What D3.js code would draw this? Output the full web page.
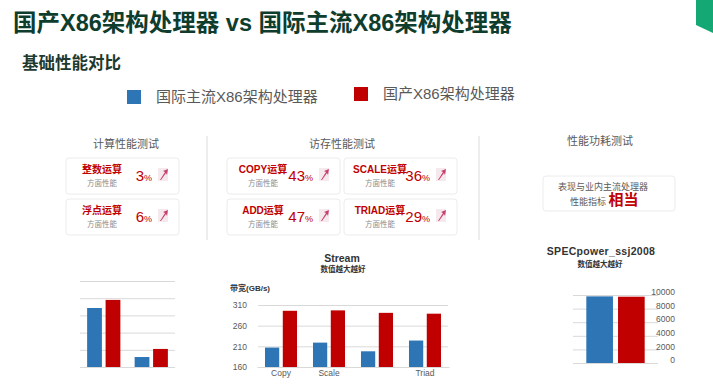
<!DOCTYPE html>
<html>
<head>
<meta charset="utf-8">
<script src="https://cdn.jsdelivr.net/npm/d3@7"></script>
<style>
  body { margin: 0; background: #fff; }
  text { font-family: "Liberation Sans", "Noto Sans CJK SC", sans-serif; }
</style>
</head>
<body>
<svg></svg>
<script>
// series
const seriesNames = ["国际主流X86架构处理器", "国产X86架构处理器"];
const seriesColors = ["#2e75b6", "#c00000"];

// cards
const computeNames = ["整数运算", "浮点运算"];
const computeGains = ["3", "6"];
const memoryNames = ["COPY运算", "SCALE运算", "ADD运算", "TRIAD运算"];
const memoryGains = ["43", "36", "47", "29"];

// left chart (no labels)
const computeCats = ["整数", "浮点"];
const computeIntl = [68.6, 11.6];
const computeHome = [78, 21];
const computeTicks = [0, 20, 40, 60, 80, 100];

// stream
const streamCats = ["Copy", "Scale", "Add", "Triad"];
const streamLabels = ["Copy", "Scale", "", "Triad"];
const streamIntl = [207, 219, 198, 224];
const streamHome = [296, 297, 291, 289];
const streamTicks = [160, 210, 260, 310];

// specpower
const specCats = ["intl", "home"];
const specValues = [9800, 9750];
const specTicks = [0, 2000, 4000, 6000, 8000, 10000];

const width = 713;
const height = 388;
const cjk = "'Noto Sans CJK SC', sans-serif";

const svg = d3.select("svg")
    .attr("width", width)
    .attr("height", height);

// header
svg.append("polygon")
    .attr("points", "696,0 713,0 713,33 696,25")
    .attr("fill", "#13a874");

svg.append("text")
    .text("国产X86架构处理器 vs 国际主流X86架构处理器")
    .attr("x", 13).attr("y", 31)
    .attr("font-size", 23.5).attr("font-weight", "bold")
    .attr("font-family", cjk)
    .attr("fill", "#0e3d2e");

svg.append("text")
    .text("基础性能对比")
    .attr("x", 22).attr("y", 69)
    .attr("font-size", 16.5).attr("font-weight", "bold")
    .attr("font-family", cjk)
    .attr("fill", "#1e3a30");

// legend
const legendX = [127, 354];
const legendY = [90, 87];
const legend = svg.append("g");
seriesNames.forEach((name, i) => {
  legend.append("rect")
      .attr("x", legendX[i]).attr("y", legendY[i])
      .attr("width", 14).attr("height", 14)
      .attr("fill", seriesColors[i]);
  legend.append("text")
      .text(name)
      .attr("x", legendX[i] + 29).attr("y", legendY[i] + 12)
      .attr("font-size", 15)
      .attr("font-family", cjk)
      .attr("fill", "#595959");
});

// section headings + separators
const headings = [["计算性能测试", 126, 148], ["访存性能测试", 342, 148], ["性能功耗测试", 600, 145]];
headings.forEach(h => {
  svg.append("text")
      .text(h[0])
      .attr("x", h[1]).attr("y", h[2])
      .attr("text-anchor", "middle")
      .attr("font-size", 11)
      .attr("font-family", cjk)
      .attr("fill", "#595959");
});
[207, 479].forEach(x => {
  svg.append("line")
      .attr("x1", x).attr("x2", x)
      .attr("y1", 136).attr("y2", 240)
      .attr("stroke", "#dcdcdc");
});

// card drawing
function card(x, y, name, gain) {
  const g = svg.append("g").attr("transform", `translate(${x},${y})`);
  g.append("rect")
      .attr("width", 113).attr("height", 36).attr("rx", 3)
      .attr("fill", "#fff").attr("stroke", "#ececec");
  g.append("text")
      .text(name)
      .attr("x", 36).attr("y", 15)
      .attr("text-anchor", "middle")
      .attr("font-size", 10).attr("font-weight", "bold")
      .attr("fill", "#c00000");
  g.append("text")
      .text("方面性能")
      .attr("x", 36).attr("y", 28)
      .attr("text-anchor", "middle")
      .attr("font-size", 7.5)
      .attr("fill", "#8c8c8c");
  const t = g.append("text")
      .attr("x", 86).attr("y", 23)
      .attr("text-anchor", "end")
      .attr("fill", "#c00000");
  t.append("tspan").text(gain).attr("font-size", 15);
  t.append("tspan").text("%").attr("font-size", 9);
  const a = g.append("g").attr("transform", "translate(92,10)");
  a.append("rect")
      .attr("width", 10).attr("height", 13)
      .attr("fill", "#f6e9ee");
  a.append("path")
      .attr("d", "M2,12 L7,4 L5,3 L10,1 L9,7 L8,5 L3,12 Z")
      .attr("fill", "#c9406f");
}

computeNames.forEach((n, i) => card(66, 158 + i * 41, n, computeGains[i]));
memoryNames.forEach((n, i) => card(227 + (i % 2) * 117, 158 + Math.floor(i / 2) * 41, n, memoryGains[i]));

// power card
const pc = svg.append("g").attr("transform", "translate(543,176)");
pc.append("rect")
    .attr("width", 132).attr("height", 35).attr("rx", 3)
    .attr("fill", "#fff").attr("stroke", "#ececec");
pc.append("text")
    .text("表现与业内主流处理器")
    .attr("x", 60).attr("y", 14)
    .attr("text-anchor", "middle")
    .attr("font-size", 9)
    .attr("fill", "#595959");
const pcLine = pc.append("text")
    .attr("x", 27).attr("y", 29)
    .attr("fill", "#595959");
pcLine.append("tspan").text("性能指标 ").attr("font-size", 9);
pcLine.append("tspan").text("相当")
    .attr("font-size", 15).attr("font-weight", "bold")
    .attr("fill", "#c00000");

// grouped bar chart helper
function groupedBars(g, cats, a, b, x0, y) {
  const x1 = d3.scaleBand()
      .domain([0, 1])
      .range([0, x0.bandwidth()])
      .paddingInner(0.2);
  g.append("g")
    .selectAll("g")
    .data(cats)
    .enter()
    .append("g")
      .attr("transform", d => `translate(${x0(d)},0)`)
    .selectAll("rect")
    .data((d, i) => [a[i], b[i]])
    .enter()
    .append("rect")
      .attr("x", (d, j) => x1(j))
      .attr("y", d => y(d))
      .attr("width", x1.bandwidth())
      .attr("height", d => y.range()[0] - y(d))
      .attr("fill", (d, j) => seriesColors[j]);
}

// left chart
const lx = d3.scaleBand()
    .domain(computeCats)
    .range([80, 175])
    .paddingInner(0.3)
    .paddingOuter(0.15);
const ly = d3.scaleLinear()
    .domain([0, 100])
    .range([367, 281]);
svg.append("g")
    .attr("transform", "translate(80,0)")
    .call(d3.axisRight(ly).tickValues(computeTicks).tickSize(95).tickFormat(""))
    .call(g => g.select(".domain").remove())
    .selectAll("line").attr("stroke", "#d9d9d9");
groupedBars(svg, computeCats, computeIntl, computeHome, lx, ly);

// stream chart
const sx = d3.scaleBand()
    .domain(streamCats)
    .range([257, 449])
    .paddingInner(0.333)
    .paddingOuter(0.1667);
const sy = d3.scaleLinear()
    .domain([160, 310])
    .range([367, 305]);
svg.append("g")
    .attr("transform", "translate(258,0)")
    .call(d3.axisLeft(sy).tickValues(streamTicks).tickSize(-190).tickPadding(11))
    .call(g => g.select(".domain").remove())
    .call(g => g.selectAll("line").attr("stroke", "#d9d9d9"))
    .selectAll("text")
      .attr("font-size", 8.5)
      .attr("fill", "#595959");
svg.append("g")
    .attr("transform", "translate(0,367)")
    .call(d3.axisBottom(sx).tickSize(0).tickPadding(3)
      .tickFormat((d, i) => streamLabels[i]))
    .call(g => g.select(".domain").attr("stroke", "#d9d9d9"))
    .selectAll("text")
      .attr("font-size", 8.5)
      .attr("fill", "#595959");
groupedBars(svg, streamCats, streamIntl, streamHome, sx, sy);

svg.append("text")
    .text("Stream")
    .attr("x", 342).attr("y", 262)
    .attr("text-anchor", "middle")
    .attr("font-size", 10.5).attr("font-weight", "bold")
    .attr("fill", "#333");
svg.append("text")
    .text("数值越大越好")
    .attr("x", 343).attr("y", 272)
    .attr("text-anchor", "middle")
    .attr("font-size", 7.5).attr("font-weight", "bold")
    .attr("fill", "#333");
svg.append("text")
    .text("带宽(GB/s)")
    .attr("x", 230).attr("y", 291)
    .attr("font-size", 8).attr("font-weight", "bold")
    .attr("fill", "#333");

// specpower chart
const px = d3.scaleBand()
    .domain(specCats)
    .range([573, 658])
    .paddingInner(0.16)
    .paddingOuter(0.42);
const py = d3.scaleLinear()
    .domain([0, 10000])
    .range([363, 295]);
svg.append("g")
    .attr("transform", "translate(573,0)")
    .call(d3.axisRight(py).tickValues(specTicks).tickSize(85).tickFormat(d3.format("d")))
    .call(g => g.select(".domain").remove())
    .call(g => g.selectAll("line").attr("stroke", "#d9d9d9"))
    .selectAll("text")
      .attr("text-anchor", "end")
      .attr("x", 102)
      .attr("y", -3)
      .attr("font-size", 8.5)
      .attr("fill", "#595959");
svg.append("g")
  .selectAll("rect")
  .data(specValues)
  .enter()
  .append("rect")
    .attr("x", (d, i) => px(specCats[i]))
    .attr("y", d => py(d))
    .attr("width", px.bandwidth())
    .attr("height", d => 363 - py(d))
    .attr("fill", (d, i) => seriesColors[i]);

svg.append("text")
    .text("SPECpower_ssj2008")
    .attr("x", 601).attr("y", 255)
    .attr("text-anchor", "middle")
    .attr("font-size", 10.5).attr("font-weight", "bold")
    .attr("letter-spacing", 0.3)
    .attr("fill", "#333");
svg.append("text")
    .text("数值越大越好")
    .attr("x", 600).attr("y", 267)
    .attr("text-anchor", "middle")
    .attr("font-size", 7.5).attr("font-weight", "bold")
    .attr("fill", "#333");
</script>
</body>
</html>
